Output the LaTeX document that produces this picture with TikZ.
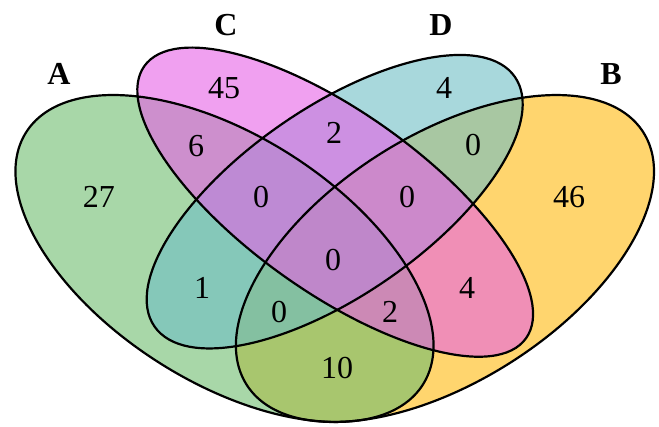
\documentclass[tikz,border=0pt]{standalone}
\usepackage{fontspec}
\setmainfont{Liberation Serif}
\usepackage{tikz}

\definecolor{setA}{RGB}{110,188,110}
\definecolor{setB}{RGB}{255,185,13}
\definecolor{setC}{RGB}{230,97,230}
\definecolor{setD}{RGB}{110,190,197}

\begin{document}
\begin{tikzpicture}[
x=0.5pt, y=-0.5pt,
every node/.style={font=\fontsize{16}{19}\selectfont, inner sep=0pt},
region/.style={fill opacity=0.6},
rim/.style={draw=black, line width=1.1pt},
setname/.style={font=\fontsize{16}{19}\selectfont\bfseries}
]
\useasboundingbox (0,0) rectangle (659,427);
\coordinate (cA) at (224.5,258.5);
\coordinate (cB) at (445,258.5);
\coordinate (cC) at (335.2,202.2);
\coordinate (cD) at (334.7,201.7);
% fills
\fill[setB, region, rotate around={32.5:(cB)}] (cB) ellipse (235.1 and 123);
\fill[setA, region, rotate around={-32.5:(cA)}] (cA) ellipse (235.1 and 123);
\fill[setD, region, rotate around={34.7:(cD)}] (cD) ellipse (219.2 and 93.9);
\fill[setC, region, rotate around={-35.5:(cC)}] (cC) ellipse (234.4 and 89.9);
% outlines
\draw[rim, rotate around={32.5:(cB)}] (cB) ellipse (235.1 and 123);
\draw[rim, rotate around={-32.5:(cA)}] (cA) ellipse (235.1 and 123);
\draw[rim, rotate around={34.7:(cD)}] (cD) ellipse (219.2 and 93.9);
\draw[rim, rotate around={-35.5:(cC)}] (cC) ellipse (234.4 and 89.9);
% set names
\node[setname] (labA) at (59,74) {A};
\node[setname] (labB) at (611,74) {B};
\node[setname] (labC) at (226,25) {C};
\node[setname] (labD) at (441,25) {D};
% counts
\node (nA) at (99,197) {27};
\node (nB) at (569,197) {46};
\node (nC) at (224,88) {45};
\node (nD) at (444,88) {4};
\node (nAC) at (196,146) {6};
\node (nCD) at (334,133) {2};
\node (nBD) at (473,145) {0};
\node (nACD) at (261,197) {0};
\node (nBCD) at (407,197) {0};
\node (nABCD) at (333,260) {0};
\node (nAD) at (202,288) {1};
\node (nBC) at (467,288) {4};
\node (nABD) at (279,312) {0};
\node (nABC) at (390,312) {2};
\node (nAB) at (337,368) {10};
\end{tikzpicture}
\end{document}
